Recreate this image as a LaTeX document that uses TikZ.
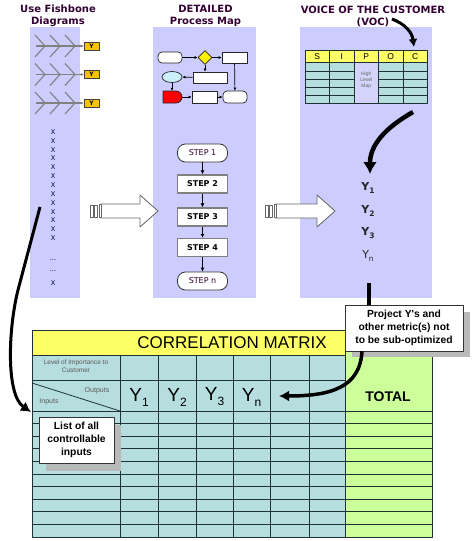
\documentclass[tikz,border=0pt]{standalone}
\usepackage{fontspec}
\setmainfont{DejaVu Sans}
\newfontfamily\arialf{Liberation Sans}
\usetikzlibrary{arrows.meta,shapes.geometric}
\definecolor{panel}{RGB}{204,204,255}
\definecolor{ttl}{RGB}{51,0,51}
\definecolor{ygold}{RGB}{245,196,0}
\definecolor{hyellow}{RGB}{255,255,102}
\definecolor{tealc}{RGB}{183,222,222}
\definecolor{greenc}{RGB}{204,255,153}
\definecolor{gridc}{RGB}{30,50,50}
\definecolor{fishc}{RGB}{128,128,128}
\definecolor{plav}{RGB}{212,212,250}
\tikzset{
  ttlnode/.style={font=\bfseries\fontsize{10}{12}\selectfont, text=ttl, align=center, inner sep=0},
  ybox/.style={draw=black!75, fill=ygold, minimum width=15pt, minimum height=8pt, inner sep=0, font=\bfseries\fontsize{6}{6}\selectfont},
  xlab/.style={font=\fontsize{6.5}{6.5}\selectfont, text=black!75!blue, inner sep=0},
  pm/.style={draw=black!85, line width=0.7pt, fill=white, inner sep=0},
  pma/.style={-{Latex[length=3pt,width=3pt]}, line width=0.7pt},
  stepr/.style={draw=gray, line width=1.4pt, fill=white, minimum width=50pt, minimum height=18pt, inner sep=0, font=\bfseries\fontsize{8}{9}\selectfont},
  stepo/.style={draw=black!80, line width=0.8pt, rounded corners=8pt, fill=white, minimum width=50pt, minimum height=18pt, inner sep=0, font=\fontsize{8}{9}\selectfont, text=ttl},
  stepa/.style={-{Latex[length=4pt,width=4pt]}, line width=1pt},
  harrow/.style={draw=gray!80!black, fill=white, line width=0.8pt},
  gridl/.style={draw=gridc, line width=0.8pt},
  bigarrow/.style={line width=3pt, -{Latex[length=10pt,width=11pt]}},
  callout/.style={draw=black!80, fill=white, align=center, inner sep=0, font=\arialf\bfseries\fontsize{10.3}{12.8}\selectfont},
  vy/.style={font=\bfseries\fontsize{11}{11}\selectfont, text=black!85, inner sep=0},
  my/.style={font=\arialf\fontsize{19}{19}\selectfont, inner sep=0},
}
\begin{document}
\begin{tikzpicture}[x=1pt,y=-1pt,line join=round]
\useasboundingbox (0,0) rectangle (474,541);
\fill[white] (0,0) rectangle (474,541);
% panels
\fill[panel] (30,27) rectangle (80,298);
\fill[panel] (153,27) rectangle (256,298);
\fill[panel] (300,27) rectangle (432,298);
% titles
\node[ttlnode] (t1) at (58,16) {Use Fishbone\\Diagrams};
\node[ttlnode] (t2) at (205.5,16) {DETAILED\\Process Map};
\node[ttlnode] (t3) at (373,16) {VOICE OF THE CUSTOMER\\(VOC)};
% fishbones
\foreach \yy [count=\k] in {46,74.5,103} {
  \draw[fishc, line width=1.1pt] (36,\yy) -- (81,\yy);
  \foreach \xx in {35,50,65} {
    \draw[fishc, line width=1.1pt] (\xx,\yy-11) -- (\xx+10,\yy) -- (\xx,\yy+11);
  }
  \node[ybox] (yb\k) at (91.5,\yy) {Y};
  \coordinate (fe\k) at (81,\yy);
  \draw[fishc, line width=1.1pt, -{Latex[length=3pt,width=3pt]}] (fe\k) -- (yb\k.west);
}
% X column
\foreach \i in {0,...,12} { \node[xlab] (x\i) at (53,132+\i*8.85) {X}; }
\node[xlab] (xd1) at (53,260) {...};
\node[xlab] (xd2) at (53,271) {...};
\node[xlab] (xl) at (53,283) {X};
% mini process map
\node[pm, rounded corners=4pt, minimum width=24pt, minimum height=11pt] (p1) at (170,57.5) {};
\node[pm, diamond, aspect=1, fill=yellow, minimum size=14pt] (p2) at (205,57.5) {};
\node[pm, minimum width=25pt, minimum height=11pt] (p3) at (234.5,57.5) {};
\node[pm, minimum width=34pt, minimum height=11pt] (p4) at (210,77.5) {};
\node[pm, ellipse, fill=cyan!20, minimum width=20pt, minimum height=11pt] (p5) at (172,77) {};
\fill[red, draw=black!85, line width=0.7pt] (163,91) -- (176,91) arc[start angle=-90, end angle=90, radius=6] -- (163,103) -- cycle;
\node[inner sep=0, minimum width=19pt, minimum height=12pt] (p6) at (172.5,97) {};
\node[pm, minimum width=25pt, minimum height=12pt] (p7) at (204.5,97) {};
\node[pm, rounded corners=4pt, minimum width=24pt, minimum height=12pt] (p8) at (235,97) {};
\draw[pma] (p1) -- (p2);
\draw[pma] (p2) -- (p3);
\draw[pma] (p2.south) -- (p2.south |- p4.north);
\draw[pma] (p4) -- (p5);
\draw[pma] (p5) -- (p5 |- p6.north);
\draw[pma] (p6) -- (p7);
\draw[pma] (p7) -- (p8);
\draw[pma] (p3) -- (p8);
% steps
\node[stepo] (st1) at (202.5,153) {STEP 1};
\node[stepr] (st2) at (202.5,184) {STEP 2};
\node[stepr] (st3) at (202.5,217) {STEP 3};
\node[stepr] (st4) at (202.5,247.5) {STEP 4};
\node[stepo] (stn) at (202.5,281) {STEP n};
\draw[stepa] (st1) -- (st2);
\draw[stepa] (st2) -- (st3);
\draw[stepa] (st3) -- (st4);
\draw[stepa] (st4) -- (stn);
% hollow arrows
\draw[harrow] (101,204) -- (140,204) -- (140,195) -- (158,211) -- (140,227) -- (140,218) -- (101,218) -- cycle;
\draw[harrow] (90,205) rectangle (93,217);
\draw[harrow] (94.5,205) rectangle (97.5,217);
\draw[harrow] (99,204.5) rectangle (101,217.5);
\draw[harrow] (276,204) -- (317,204) -- (317,195) -- (335,211) -- (317,227) -- (317,218) -- (276,218) -- cycle;
\draw[harrow] (265,205) rectangle (268,217);
\draw[harrow] (269.5,205) rectangle (272.5,217);
\draw[harrow] (274,204.5) rectangle (276,217.5);
% SIPOC
\fill[hyellow] (305,50) rectangle (427.5,62.5);
\fill[tealc] (305,62.5) rectangle (354,103);
\fill[tealc] (378.5,62.5) rectangle (427.5,103);
\fill[plav] (354,62.5) rectangle (378.5,103);
\foreach \yy in {71,79,87,95} {
  \draw[gridl] (305,\yy) -- (354,\yy);
  \draw[gridl] (378.5,\yy) -- (427.5,\yy);
}
\draw[gridl] (305,62.5) -- (427.5,62.5);
\foreach \xx in {329.5,354,378.5,403} { \draw[gridl] (\xx,50) -- (\xx,103); }
\draw[gridl, line width=1pt] (305,50) rectangle (427.5,103);
\foreach \l/\xx in {S/317.25,I/341.75,P/366.25,O/390.75,C/415.25} {
  \node[font=\arialf\fontsize{8.5}{8.5}\selectfont, inner sep=0] (h\l) at (\xx,56.5) {\l};
}
\node[font=\arialf\fontsize{5}{6}\selectfont, text=black!60, align=center, inner sep=0] (hlm) at (366.25,80) {High\\Level\\Map};
% VOC arrow
\coordinate (vs) at (392,19);
\coordinate (ve) at (414,47);
\draw[line width=3pt, -{Latex[length=8pt,width=9pt]}] (vs) .. controls (405,24) and (412,32) .. (ve);
% big curved arrow in VOC panel
\coordinate (cs) at (413,112);
\coordinate (ce) at (370,174);
\draw[line width=4.5pt, -{Latex[length=12pt,width=14pt]}] (cs) .. controls (385,128) and (370,145) .. (ce);
% Y list
\node[vy] (vy1) at (368,188) {Y\raisebox{-3pt}{\fontsize{7.5}{7.5}\selectfont 1}};
\node[vy] (vy2) at (368,211) {Y\raisebox{-3pt}{\fontsize{7.5}{7.5}\selectfont 2}};
\node[vy] (vy3) at (368,233) {Y\raisebox{-3pt}{\fontsize{7.5}{7.5}\selectfont 3}};
\node[vy, font=\fontsize{11}{11}\selectfont] (vyn) at (368,256) {Y\raisebox{-3pt}{\fontsize{7.5}{7.5}\selectfont n}};
% correlation matrix
\fill[hyellow] (32,330) rectangle (345,355);
\fill[greenc] (345,330) rectangle (432,537);
\fill[tealc] (32,355) rectangle (345,537);
\draw[gridl] (32,355) -- (345,355);
\draw[gridl] (32,380) -- (345,380);
\draw[gridl] (32,411) -- (432,411);
\foreach \i in {1,...,9} { \draw[gridl] (32,411+\i*12.6) -- (432,411+\i*12.6); }
\foreach \xx in {120,158,196,233,270,309} { \draw[gridl] (\xx,355) -- (\xx,537); }
\draw[gridl] (345,330) -- (345,537);
\draw[gridl] (32,383) -- (120,411);
\draw[gridl, line width=1pt] (32,330) rectangle (432,537);
\node[font=\arialf\fontsize{17}{17}\selectfont, inner sep=0] (cm) at (232,343) {CORRELATION MATRIX};
\node[font=\arialf\fontsize{6.5}{7.5}\selectfont, text=black!65, align=center, inner sep=0] (loi) at (76,366) {Level of Importance to\\Customer};
\node[font=\arialf\fontsize{7}{7}\selectfont, text=black!65, inner sep=0] (outl) at (97,391) {Outputs};
\node[font=\arialf\fontsize{7}{7}\selectfont, text=black!65, inner sep=0] (inl) at (49,402) {Inputs};
\node[my] (m1) at (139,397) {Y\raisebox{-5pt}{\fontsize{12}{12}\selectfont 1}};
\node[my] (m2) at (177,397) {Y\raisebox{-5pt}{\fontsize{12}{12}\selectfont 2}};
\node[my] (m3) at (214.5,397) {Y\raisebox{-5pt}{\fontsize{12}{12}\selectfont 3}};
\node[my] (mn) at (251.5,397) {Y\raisebox{-5pt}{\fontsize{12}{12}\selectfont n}};
\node[font=\arialf\bfseries\fontsize{14}{14}\selectfont, inner sep=0] (tot) at (388,397) {TOTAL};
% left curved arrow
\coordinate (la1) at (40,207);
\coordinate (la2) at (31,412);
\draw[bigarrow] (la1) -- (18,290) .. controls (8,330) and (6,395) .. (la2);
% callout A
\fill[gray!55] (46,425) rectangle (121,471);
\node[callout, minimum width=75pt, minimum height=46pt] (ca) at (76.5,440) {List of all\\controllable\\inputs};
% line from Y list down to callout B, and arrow to Yn
\coordinate (vx) at (369,283);
\coordinate (bx) at (362,0);
\coordinate (mt) at (279,396);
\fill[gray!55] (352,312) rectangle (470,357);
\node[callout, minimum width=118pt, minimum height=46pt] (cb) at (404,328) {Project Y's and\\other metric(s) not\\to be sub-optimized};
\draw[line width=3.5pt] (vx) -- (vx |- cb.north);
\draw[line width=3.5pt, -{Latex[length=10pt,width=11pt]}] (cb.south -| bx) .. controls (360,388) and (330,396) .. (mt);
\end{tikzpicture}
\end{document}
